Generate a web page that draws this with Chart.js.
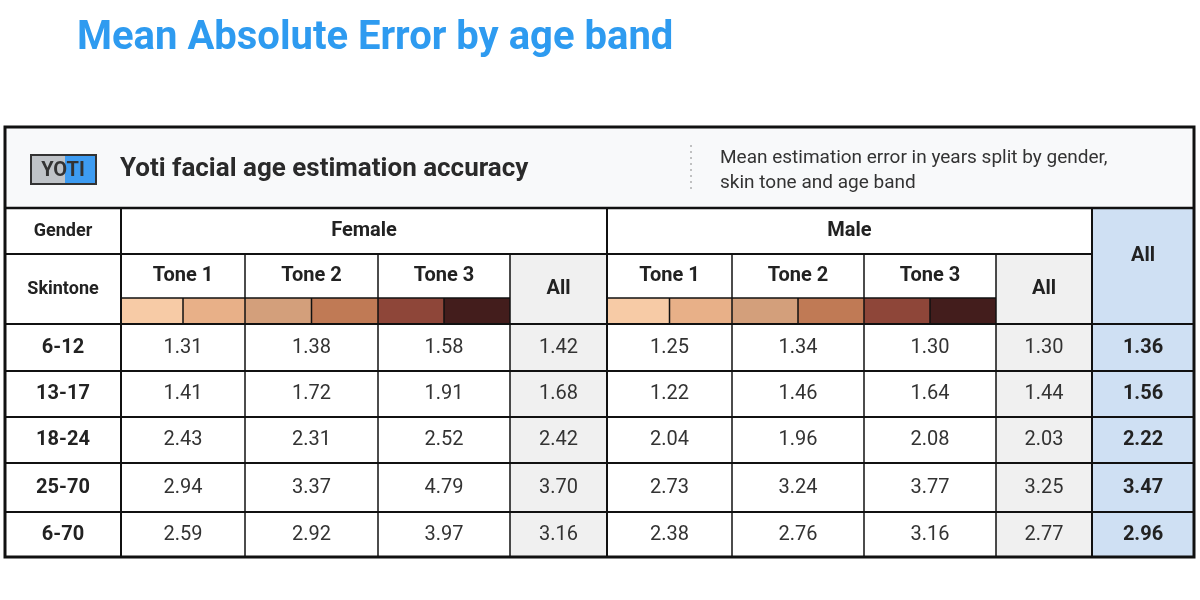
<!DOCTYPE html>
<html>
<head>
<meta charset="utf-8">
<script src="https://cdn.jsdelivr.net/npm/chart.js@4"></script>
<style>
  body { margin: 0; background: #fff; }
  #wrap { position: relative; width: 1200px; height: 600px; }
  h1 { position: absolute; left: 77px; top: 12px; margin: 0; font: bold 40px Roboto, "Liberation Sans", sans-serif; color: #2e9bf0; }
</style>
</head>
<body>
<div id="wrap">
  <h1>Mean Absolute Error by age band</h1>
  <canvas id="tbl" width="1200" height="600"></canvas>
</div>
<script>
// Table data
const ageBands = ['6-12', '13-17', '18-24', '25-70', '6-70'];
const genders = ['Female', 'Male'];
const toneLabels = ['Tone 1', 'Tone 2', 'Tone 3'];
const femaleValues = [
  ['1.31', '1.38', '1.58', '1.42'],
  ['1.41', '1.72', '1.91', '1.68'],
  ['2.43', '2.31', '2.52', '2.42'],
  ['2.94', '3.37', '4.79', '3.70'],
  ['2.59', '2.92', '3.97', '3.16']
];
const maleValues = [
  ['1.25', '1.34', '1.30', '1.30'],
  ['1.22', '1.46', '1.64', '1.44'],
  ['2.04', '1.96', '2.08', '2.03'],
  ['2.73', '3.24', '3.77', '3.25'],
  ['2.38', '2.76', '3.16', '2.77']
];
const overallValues = ['1.36', '1.56', '2.22', '3.47', '2.96'];
const toneSwatches = [['#f7cba6', '#e8b088'], ['#d39f7b', '#c07a55'], ['#8e4639', '#431d1c']];

// Layout weights (column widths / row heights in scale units)
const colW = [116, 124, 133, 132, 97, 125, 132, 132, 96, 102];
const rowH = [46, 70, 47, 46, 46, 49, 45];
const cum = a => a.reduce((acc, v) => (acc.push(acc[acc.length - 1] + v), acc), [0]);
const colE = cum(colW), rowE = cum(rowH);

const FONT = 'Roboto, "Liberation Sans", sans-serif';

const tablePlugin = {
  id: 'tablePlugin',
  afterDraw(chart) {
    const { ctx, scales: { x, y }, chartArea: ca } = chart;
    const X = i => x.getPixelForValue(colE[i]);
    const Y = j => y.getPixelForValue(rowE[j]);
    const rect = (c0, r0, c1, r1, fill) => { ctx.fillStyle = fill; ctx.fillRect(X(c0), Y(r0), X(c1) - X(c0), Y(r1) - Y(r0)); };
    const text = (t, cx, cy, font, color) => { ctx.font = font; ctx.fillStyle = color || '#222'; ctx.textAlign = 'center'; ctx.textBaseline = 'middle'; ctx.fillText(t, cx, cy); };
    const line = (x0, y0, x1, y1, w) => { ctx.lineWidth = w; ctx.strokeStyle = '#111'; ctx.beginPath(); ctx.moveTo(x0, y0); ctx.lineTo(x1, y1); ctx.stroke(); };

    ctx.save();
    // header band
    const hTop = 127;
    ctx.fillStyle = '#f8f9fa';
    ctx.fillRect(ca.left, hTop, ca.right - ca.left, ca.top - hTop);
    // logo
    ctx.fillStyle = '#bfc3c7'; ctx.fillRect(31, 155, 34, 29);
    ctx.fillStyle = '#3d9cf2'; ctx.fillRect(65, 155, 31, 29);
    ctx.lineWidth = 2; ctx.strokeStyle = '#333'; ctx.strokeRect(31, 155, 65, 29);
    ctx.font = 'bold 20px ' + FONT; ctx.fillStyle = '#333'; ctx.textAlign = 'center'; ctx.textBaseline = 'middle';
    ctx.fillText('YOTI', 63, 171);
    ctx.font = 'bold 26px ' + FONT; ctx.textAlign = 'left'; ctx.fillStyle = '#2a2a2a';
    ctx.fillText('Yoti facial age estimation accuracy', 120, 169);
    ctx.setLineDash([2, 4]); ctx.strokeStyle = '#888'; ctx.lineWidth = 1;
    ctx.beginPath(); ctx.moveTo(691, 145); ctx.lineTo(691, 192); ctx.stroke(); ctx.setLineDash([]);
    ctx.font = '19px ' + FONT; ctx.fillStyle = '#333';
    ctx.fillText('Mean estimation error in years split by gender,', 720, 158);
    ctx.fillText('skin tone and age band', 720, 183);

    // cell backgrounds
    rect(4, 1, 5, 7, '#f0f0f0');
    rect(8, 1, 9, 7, '#f0f0f0');
    rect(9, 0, 10, 7, '#cfe0f3');

    // swatches
    const swTop = y.getPixelForValue(rowE[1] + 44);
    [1, 5].forEach(start => {
      toneSwatches.forEach((pair, t) => {
        const x0 = X(start + t), x1 = X(start + t + 1), xm = (x0 + x1) / 2;
        ctx.fillStyle = pair[0]; ctx.fillRect(x0, swTop, xm - x0, Y(2) - swTop);
        ctx.fillStyle = pair[1]; ctx.fillRect(xm, swTop, x1 - xm, Y(2) - swTop);
        line(xm, swTop, xm, Y(2), 1.5);
      });
      line(X(start), swTop, X(start + 3), swTop, 1.5);
    });

    // header labels
    const cx = i => (X(i) + X(i + 1)) / 2, cy = j => (Y(j) + Y(j + 1)) / 2;
    const bold = 'bold 20px ' + FONT;
    text('Gender', cx(0), cy(0), 'bold 18px ' + FONT);
    text('Skintone', cx(0), cy(1), 'bold 18px ' + FONT);
    text(genders[0], (X(1) + X(5)) / 2, cy(0), bold);
    text(genders[1], (X(5) + X(9)) / 2, cy(0), bold);
    text('All', cx(9), (Y(0) + Y(2)) / 2 - 10, bold);
    [1, 5].forEach(start => {
      toneLabels.forEach((t, k) => text(t, cx(start + k), Y(1) + 22, bold));
      text('All', cx(start + 3), cy(1), bold);
    });

    // data rows
    ageBands.forEach((band, r) => {
      const yy = cy(r + 2);
      text(band, cx(0), yy, bold);
      femaleValues[r].forEach((v, k) => text(v, cx(1 + k), yy, '20px ' + FONT, '#333'));
      maleValues[r].forEach((v, k) => text(v, cx(5 + k), yy, '20px ' + FONT, '#333'));
      text(overallValues[r], cx(9), yy, bold);
    });

    // grid lines
    for (let j = 1; j <= 6; j++) {
      if (j === 1) { line(X(0), Y(1), X(9), Y(1), 2); continue; }
      line(X(0), Y(j), X(10), Y(j), 2);
    }
    [1, 5, 9].forEach(i => line(X(i), Y(0), X(i), Y(7), 2));
    [2, 3, 4, 6, 7, 8].forEach(i => line(X(i), Y(1), X(i), Y(7), 1.5));
    line(X(0), Y(0), X(10), Y(0), 2.5);
    ctx.lineWidth = 3; ctx.strokeStyle = '#111';
    ctx.strokeRect(ca.left, hTop, ca.right - ca.left, Y(7) - hTop);
    ctx.restore();
  }
};

new Chart(document.getElementById('tbl'), {
  type: 'scatter',
  data: { datasets: [{ data: [], pointRadius: 0 }] },
  options: {
    responsive: false,
    animation: false,
    layout: { padding: { left: 5, right: 6, top: 208, bottom: 43 } },
    plugins: { legend: { display: false }, tooltip: { enabled: false } },
    scales: {
      x: { type: 'linear', min: 0, max: colE[colE.length - 1], display: false },
      y: { type: 'linear', min: 0, max: rowE[rowE.length - 1], reverse: true, display: false }
    }
  },
  plugins: [tablePlugin]
});
</script>
</body>
</html>
